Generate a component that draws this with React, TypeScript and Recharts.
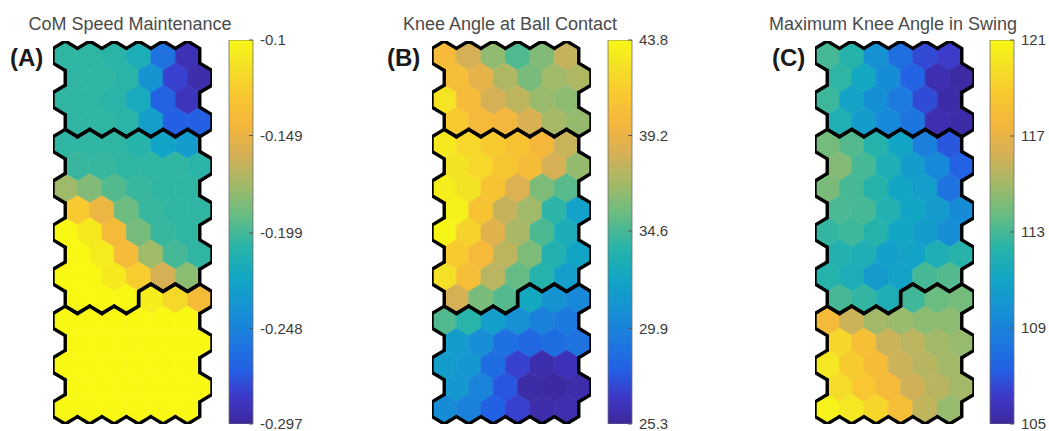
import React from "react";
import { ScatterChart, Scatter, XAxis, YAxis, BarChart, Bar } from "recharts";

// ---- data ----
const titles = ["CoM Speed Maintenance", "Knee Angle at Ball Contact", "Maximum Knee Angle in Swing"];
const panelLabels = ["(A)", "(B)", "(C)"];

// cluster id of every SOM unit (17 rows x 6 cols, odd rows shifted right)
const clusterRows = [
  "000000", "000000", "000000", "000000",
  "111111", "111111", "111111", "111111", "111111", "111111", "111111",
  "111222",
  "222222", "222222", "222222", "222222", "222222",
];

const comSpeed = [
  [-0.204, -0.204, -0.206, -0.214, -0.258, -0.289],
  [-0.204, -0.204, -0.206, -0.236, -0.28, -0.292],
  [-0.204, -0.204, -0.206, -0.218, -0.267, -0.287],
  [-0.204, -0.204, -0.206, -0.228, -0.269, -0.269],
  [-0.204, -0.204, -0.204, -0.208, -0.224, -0.23],
  [-0.202, -0.202, -0.204, -0.204, -0.204, -0.206],
  [-0.175, -0.183, -0.195, -0.202, -0.204, -0.204],
  [-0.127, -0.147, -0.188, -0.202, -0.204, -0.204],
  [-0.1, -0.108, -0.14, -0.186, -0.202, -0.204],
  [-0.1, -0.107, -0.139, -0.175, -0.199, -0.204],
  [-0.1, -0.1, -0.108, -0.125, -0.158, -0.18],
  [-0.1, -0.1, -0.1, -0.106, -0.118, -0.138],
  [-0.1, -0.1, -0.1, -0.1, -0.1, -0.1],
  [-0.1, -0.1, -0.1, -0.1, -0.1, -0.1],
  [-0.1, -0.1, -0.1, -0.1, -0.1, -0.1],
  [-0.1, -0.1, -0.1, -0.1, -0.1, -0.1],
  [-0.1, -0.1, -0.1, -0.1, -0.1, -0.1],
];

const kneeContact = [
  [40.1, 38.3, 36.4, 34.8, 36.0, 37.8],
  [40.3, 39.0, 37.2, 35.8, 36.8, 37.2],
  [42.7, 40.1, 38.3, 37.6, 36.6, 36.3],
  [41.3, 40.0, 39.7, 38.5, 36.9, 36.5],
  [43.0, 42.0, 41.3, 40.8, 39.8, 37.9],
  [42.6, 42.0, 41.0, 40.2, 38.3, 36.5],
  [43.2, 42.6, 40.8, 38.6, 35.9, 35.0],
  [43.4, 40.8, 37.8, 36.8, 33.9, 32.0],
  [43.6, 41.8, 38.8, 37.0, 34.7, 33.0],
  [41.3, 40.0, 37.6, 35.9, 33.4, 32.2],
  [42.5, 40.4, 37.5, 35.3, 33.6, 31.8],
  [38.3, 35.8, 34.9, 32.5, 31.0, 30.3],
  [34.8, 33.8, 31.8, 30.8, 29.8, 29.4],
  [31.7, 30.6, 28.8, 28.4, 28.7, 29.0],
  [31.7, 31.2, 28.7, 26.9, 25.8, 26.1],
  [31.2, 30.0, 27.6, 25.6, 25.5, 25.7],
  [30.5, 29.8, 28.0, 26.9, 25.8, 25.9],
];

const kneeSwing = [
  [113.0, 112.2, 109.8, 108.0, 106.6, 106.2],
  [112.5, 111.2, 109.5, 107.5, 105.5, 105.2],
  [112.8, 110.9, 109.7, 108.6, 106.7, 105.3],
  [111.9, 110.5, 109.3, 108.3, 105.5, 105.3],
  [114.0, 113.3, 112.2, 111.0, 108.8, 107.0],
  [114.3, 113.0, 111.8, 110.5, 109.3, 107.4],
  [114.1, 113.0, 112.2, 111.0, 110.6, 108.2],
  [113.1, 113.0, 112.0, 111.0, 110.4, 109.5],
  [112.6, 112.8, 112.2, 111.1, 110.5, 109.6],
  [112.0, 111.8, 110.7, 110.9, 111.8, 112.3],
  [112.2, 111.7, 110.4, 110.9, 113.0, 113.3],
  [113.0, 112.6, 111.8, 112.9, 113.8, 114.0],
  [117.8, 116.0, 115.0, 114.8, 114.5, 114.5],
  [119.4, 118.1, 116.0, 115.6, 115.0, 114.7],
  [120.2, 118.9, 117.9, 116.0, 115.5, 115.0],
  [119.7, 118.7, 117.8, 116.1, 115.5, 115.0],
  [120.7, 120.2, 119.4, 118.0, 115.7, 114.7],
];

const comSpeedTicks = [-0.297, -0.248, -0.199, -0.149, -0.1];
const comSpeedLabels = ["-0.297", "-0.248", "-0.199", "-0.149", "-0.1"];
const kneeContactTicks = [25.3, 29.9, 34.6, 39.2, 43.8];
const kneeContactLabels = ["25.3", "29.9", "34.6", "39.2", "43.8"];
const kneeSwingTicks = [105, 109, 113, 117, 121];
const kneeSwingLabels = ["105", "109", "113", "117", "121"];

// parula (approx.)
const parulaStops: [number, number, number, number][] = [
  [0.0, 60, 40, 155],
  [0.07, 62, 56, 200],
  [0.14, 35, 95, 228],
  [0.22, 28, 122, 222],
  [0.3, 22, 146, 212],
  [0.38, 18, 166, 196],
  [0.46, 40, 180, 168],
  [0.54, 100, 188, 132],
  [0.62, 160, 186, 105],
  [0.7, 212, 176, 86],
  [0.78, 245, 182, 60],
  [0.86, 248, 200, 48],
  [0.93, 244, 224, 38],
  [1.0, 248, 248, 20],
];

function parula(t: number) {
  t = Math.max(0, Math.min(1, t));
  for (let i = 1; i < parulaStops.length; i++) {
    const a = parulaStops[i - 1];
    const b = parulaStops[i];
    if (t <= b[0]) {
      const f = (t - a[0]) / (b[0] - a[0]);
      const m = (k: number) => Math.round(a[k] + (b[k] - a[k]) * f);
      return `rgb(${m(1)},${m(2)},${m(3)})`;
    }
  }
  return "rgb(248,248,20)";
}

// ---- layout ----
const FONT = "'Liberation Sans', Arial, sans-serif";
const ROWS = 17;
const COLS = 6;
const MAP_W = 159;
const MAP_H = 383;
const MAP_TOP = 41;
const PAD = 5;
const CB_TOP = 40;
const CB_H = 384;
const CB_W = 24;

const clusterAt = (r: number, c: number) =>
  r < 0 || r >= ROWS || c < 0 || c >= COLS ? null : clusterRows[r][c];

function neighbours(r: number, c: number) {
  const odd = r % 2 === 1;
  return [
    [r - 1, odd ? c + 1 : c],
    [r, c + 1],
    [r + 1, odd ? c + 1 : c],
    [r + 1, odd ? c : c - 1],
    [r, c - 1],
    [r - 1, odd ? c : c - 1],
  ];
}

function buildCells(values: number[][]) {
  const out: { x: number; y: number; v: number; r: number; c: number }[] = [];
  values.forEach((row, r) =>
    row.forEach((v, c) => out.push({ x: c + (r % 2 ? 0.5 : 0), y: r, v, r, c }))
  );
  return out;
}

function HexMap({ values, range, left }: { values: number[][]; range: number[]; left: number }) {
  const cells = buildCells(values);
  const ux = MAP_W / (COLS + 0.5);
  const uy = MAP_H / (ROWS - 1 + 4 / 3);
  const corners = (cx: number, cy: number) => [
    [cx, cy - (2 * uy) / 3],
    [cx + ux / 2, cy - uy / 3],
    [cx + ux / 2, cy + uy / 3],
    [cx, cy + (2 * uy) / 3],
    [cx - ux / 2, cy + uy / 3],
    [cx - ux / 2, cy - uy / 3],
  ];

  const fillShape = (p: any) => {
    const pts = corners(p.cx, p.cy);
    const col = parula((p.payload.v - range[0]) / (range[1] - range[0]));
    return <polygon points={pts.map((q) => q.join(",")).join(" ")} fill={col} stroke={col} strokeWidth={0.6} />;
  };

  const edgeShape = (p: any) => {
    const { r, c } = p.payload;
    const pts = corners(p.cx, p.cy);
    const own = clusterAt(r, c);
    let d = "";
    neighbours(r, c).forEach(([nr, nc], i) => {
      if (clusterAt(nr, nc) !== own) {
        const a = pts[i];
        const b = pts[(i + 1) % 6];
        d += `M${a[0]},${a[1]}L${b[0]},${b[1]}`;
      }
    });
    return d ? <path d={d} stroke="#000" strokeWidth={3.4} strokeLinecap="round" fill="none" /> : <g />;
  };

  return (
    <div style={{ position: "absolute", left: left - PAD, top: MAP_TOP - PAD }}>
      <ScatterChart
        width={MAP_W + 2 * PAD}
        height={MAP_H + 2 * PAD}
        margin={{ top: PAD, right: PAD, bottom: PAD, left: PAD }}
      >
        <XAxis type="number" dataKey="x" domain={[-0.5, COLS]} allowDataOverflow hide />
        <YAxis type="number" dataKey="y" domain={[-2 / 3, ROWS - 1 + 2 / 3]} allowDataOverflow reversed hide />
        <Scatter data={cells} shape={fillShape} isAnimationActive={false} />
        <Scatter data={cells} shape={edgeShape} isAnimationActive={false} />
      </ScatterChart>
    </div>
  );
}

function ColorBar({ ticks, labels, left, id }: { ticks: number[]; labels: string[]; left: number; id: string }) {
  const range = [ticks[0], ticks[ticks.length - 1]];
  const data = [{ name: "cb", span: range }];
  const Tick = (p: any) => {
    const { x, y, payload } = p;
    const i = ticks.indexOf(payload.value);
    return (
      <g>
        <line x1={x - 4} x2={x} y1={y} y2={y} stroke="#555" strokeWidth={1} />
        <text x={x + 7} y={y} dy="0.35em" textAnchor="start" fontSize={15} fill="#3c3c3c" fontFamily={FONT}>
          {labels[i]}
        </text>
      </g>
    );
  };
  return (
    <div style={{ position: "absolute", left: left - 1, top: CB_TOP - 9 }}>
      <BarChart
        width={1 + CB_W + 60}
        height={CB_H + 18}
        data={data}
        margin={{ top: 9, right: 0, bottom: 9, left: 1 }}
        barCategoryGap={0}
      >
        <defs>
          <linearGradient id={id} x1="0" y1="1" x2="0" y2="0">
            {parulaStops.map((s) => (
              <stop key={s[0]} offset={`${s[0] * 100}%`} stopColor={`rgb(${s[1]},${s[2]},${s[3]})`} />
            ))}
          </linearGradient>
        </defs>
        <XAxis dataKey="name" hide />
        <YAxis
          orientation="right"
          type="number"
          domain={range}
          ticks={ticks}
          interval={0}
          width={60}
          tick={<Tick />}
          tickLine={false}
          axisLine={false}
          tickSize={0}
          tickMargin={0}
          allowDataOverflow
        />
        <Bar dataKey="span" fill={`url(#${id})`} stroke="#707070" strokeWidth={0.8} isAnimationActive={false} />
      </BarChart>
    </div>
  );
}

const panels = [
  { values: comSpeed, ticks: comSpeedTicks, labels: comSpeedLabels, mapLeft: 53, cbLeft: 229, titleX: 130, labelX: 10 },
  { values: kneeContact, ticks: kneeContactTicks, labels: kneeContactLabels, mapLeft: 432, cbLeft: 608, titleX: 510, labelX: 387 },
  { values: kneeSwing, ticks: kneeSwingTicks, labels: kneeSwingLabels, mapLeft: 815, cbLeft: 990, titleX: 893, labelX: 772 },
];

export default function App() {
  return (
    <div
      style={{
        position: "absolute",
        left: 0,
        top: 0,
        width: 1049,
        height: 431,
        background: "#fff",
        fontFamily: FONT,
        overflow: "hidden",
      }}
    >
      {panels.map((p, i) => (
        <React.Fragment key={i}>
          <div
            style={{
              position: "absolute",
              left: p.titleX - 160,
              width: 320,
              top: 13,
              textAlign: "center",
              fontSize: 18,
              lineHeight: "22px",
              color: "#4a4a4a",
              whiteSpace: "nowrap",
            }}
          >
            {titles[i]}
          </div>
          <div
            style={{
              position: "absolute",
              left: p.labelX,
              top: 45,
              fontSize: 24,
              lineHeight: "26px",
              fontWeight: "bold",
              color: "#1a1a1a",
            }}
          >
            {panelLabels[i]}
          </div>
          <HexMap values={p.values} range={[p.ticks[0], p.ticks[p.ticks.length - 1]]} left={p.mapLeft} />
          <ColorBar ticks={p.ticks} labels={p.labels} left={p.cbLeft} id={`parula${i}`} />
        </React.Fragment>
      ))}
    </div>
  );
}
